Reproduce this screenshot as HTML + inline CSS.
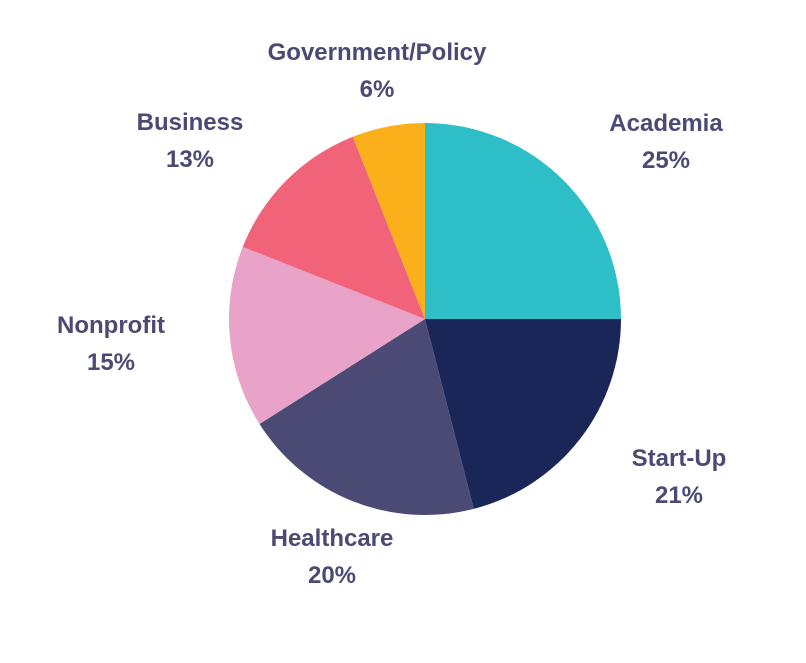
<!DOCTYPE html>
<html><head><meta charset="utf-8"><style>
html,body{margin:0;padding:0;background:#fff;}
svg text{font-family:"Liberation Sans",sans-serif;font-weight:bold;font-size:24px;fill:#4b4a74;text-anchor:middle;}
</style></head><body>
<svg id="chart" width="806" height="658" viewBox="0 0 806 658"></svg>
<script>
const categories = ["Academia","Start-Up","Healthcare","Nonprofit","Business","Government/Policy"];
const values = [25,21,20,15,13,6];
const colors = ["#2ebec7","#1b2658","#4b4a74","#e9a3c9","#f06378","#fbb01b"];
const labelPos = [[666,131],[679,466],[332,546],[111,333],[190,130],[377,60]];
const cx=425, cy=319, r=196;
const svg=document.getElementById('chart');
const ns="http://www.w3.org/2000/svg";
const total=values.reduce((a,b)=>a+b,0);
function pt(a){return [cx+r*Math.sin(a), cy-r*Math.cos(a)];}
let acc=0;
values.forEach((v,i)=>{
  const a0=acc/total*2*Math.PI; acc+=v; const a1=acc/total*2*Math.PI;
  const p0=pt(a0), p1=pt(a1);
  const large=(a1-a0)>Math.PI?1:0;
  const path=document.createElementNS(ns,'path');
  path.setAttribute('d',`M${cx},${cy} L${p0[0]},${p0[1]} A${r},${r} 0 ${large} 1 ${p1[0]},${p1[1]} Z`);
  path.setAttribute('fill',colors[i]);
  
  
  svg.appendChild(path);
  const t=document.createElementNS(ns,'text');
  t.setAttribute('x',labelPos[i][0]); t.setAttribute('y',labelPos[i][1]);
  
  
  const s1=document.createElementNS(ns,'tspan'); s1.setAttribute('x',labelPos[i][0]); s1.textContent=categories[i];
  const s2=document.createElementNS(ns,'tspan'); s2.setAttribute('x',labelPos[i][0]); s2.setAttribute('dy','37'); s2.textContent=v+'%';
  t.appendChild(s1); t.appendChild(s2);
  svg.appendChild(t);
});
</script>
</body></html>
